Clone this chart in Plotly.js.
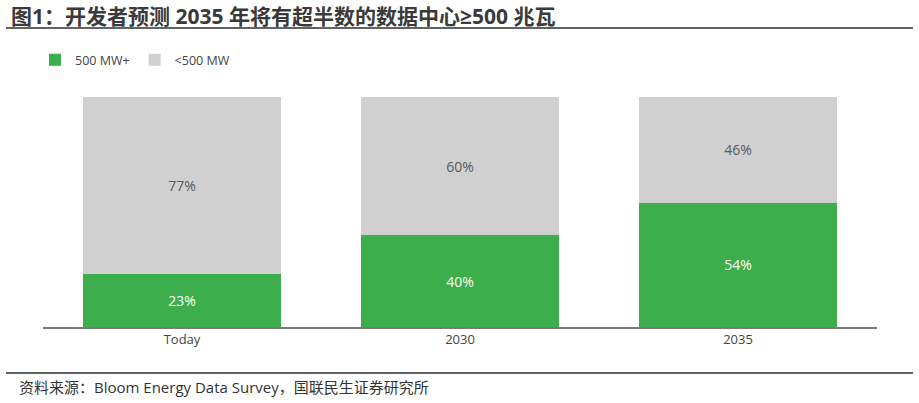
<!DOCTYPE html>
<html>
<head>
<meta charset="utf-8">
<script src="https://cdn.plot.ly/plotly-3.0.1.min.js"></script>
<style>html,body{margin:0;padding:0;background:#fff;}#chart{width:919px;height:403px;}</style>
</head>
<body>
<div id="chart"></div>
<script>
const categories = ["Today", "2030", "2035"];
const large = [23, 40, 54];
const small = [77, 60, 46];
const seriesNames = ["500 MW+", "<500 MW"];
const titleText = "图1：开发者预测 2035 年将有超半数的数据中心≥500 兆瓦";
const sourceText = "资料来源：Bloom Energy Data Survey，国联民生证券研究所";

const fontFam = '"Open Sans", "Noto Sans CJK SC", sans-serif';
const traces = [
  {
    type: "bar", name: seriesNames[0], x: categories, y: large,
    marker: {color: "#3cae4c"},
    text: large.map(v => v + "%"), textposition: "inside", insidetextanchor: "middle",
    textfont: {color: "#ffffff", size: 14, family: '"Open Sans", sans-serif'},
    hoverinfo: "none"
  },
  {
    type: "bar", name: seriesNames[1], x: categories, y: small,
    marker: {color: "#d0d0d0"},
    text: small.map(v => v + "%"), textposition: "inside", insidetextanchor: "middle",
    textfont: {color: "#595959", size: 14, family: '"Open Sans", sans-serif'},
    hoverinfo: "none"
  }
];

const layout = {
  width: 919, height: 403,
  margin: {l: 43, r: 42, t: 97, b: 76},
  paper_bgcolor: "#ffffff", plot_bgcolor: "#ffffff",
  barmode: "stack", bargap: 0.288,
  showlegend: true,
  legend: {
    orientation: "h", x: -0.0096, xanchor: "left", y: 1.16, yanchor: "middle",
    font: {size: 12.5, color: "#444", family: '"Open Sans", sans-serif'},
    itemwidth: 30, traceorder: "normal"
  },
  xaxis: {
    type: "category", range: [-0.5, 2.5], showline: true, linecolor: "#7a7a7a", linewidth: 1.5,
    ticks: "", showgrid: false, zeroline: false,
    tickfont: {size: 13, color: "#444", family: '"Open Sans", sans-serif'}
  },
  yaxis: {range: [0, 100], visible: false, showgrid: false, zeroline: false, fixedrange: true},
  annotations: [
    {text: "<b>" + titleText + "</b>", xref: "paper", yref: "paper",
     x: -34/834, y: 1 + (97-16)/230, xanchor: "left", yanchor: "middle", showarrow: false,
     font: {size: 21, color: "#3a3a3a", family: fontFam}},
    {text: sourceText, xref: "paper", yref: "paper",
     x: -26/834, y: -(387-327)/230, xanchor: "left", yanchor: "middle", showarrow: false,
     font: {size: 15, color: "#333", family: fontFam}}
  ],
  shapes: [
    {type: "line", xref: "paper", yref: "paper", x0: -37/834, x1: 1 + 36/834,
     y0: 1 + (97-28)/230, y1: 1 + (97-28)/230, line: {color: "#5f6366", width: 2}},
    {type: "line", xref: "paper", yref: "paper", x0: -37/834, x1: 1 + 36/834,
     y0: -(373-327)/230, y1: -(373-327)/230, line: {color: "#5f6366", width: 2}}
  ]
};

Plotly.newPlot("chart", traces, layout, {displayModeBar: false, staticPlot: true});
</script>
</body>
</html>
